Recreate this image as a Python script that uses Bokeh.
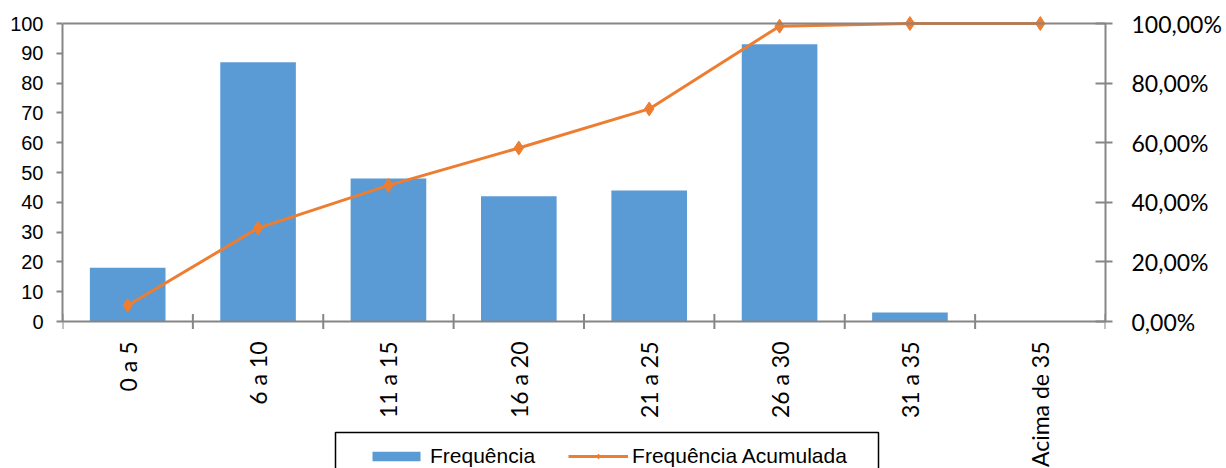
from math import pi
from bokeh.plotting import figure
from bokeh.models import Range1d, LinearAxis, FixedTicker, Span, BoxAnnotation
from bokeh.core.properties import value
from bokeh.embed import file_html
from bokeh.resources import INLINE

# ---- data ----
categories = ["0 a 5", "6 a 10", "11 a 15", "16 a 20", "21 a 25", "26 a 30", "31 a 35", "Acima de 35"]
frequencia = [18, 87, 48, 42, 44, 93, 3, 0]
acumulada_pct = [5.37, 31.34, 45.67, 58.21, 71.34, 99.10, 100.0, 100.0]
left_ticks = [0, 10, 20, 30, 40, 50, 60, 70, 80, 90, 100]
right_ticks = [0, 20, 40, 60, 80, 100]
right_tick_labels = ["0,00%", "20,00%", "40,00%", "60,00%", "80,00%", "100,00%"]

BAR = "#5B9BD5"
LINE = "#ED7D31"
AX = "#868686"

W, H = 1226, 468
n = len(categories)
xc = [i + 0.5 for i in range(n)]
bounds = list(range(n + 1))
zeros = [0] * len(bounds)

# layout: value 100 at y=23px, value 0 at y=321px; frame runs to the bottom edge
FL, FR = 62, 1105
ppu = (321 - 23) / 100.0
frame_top = 15
y_end = 100 + (23 - frame_top) / ppu
y_start = -(H - 321) / ppu

p = figure(width=W, height=H, output_backend="svg", toolbar_location=None,
           x_range=Range1d(0, n), y_range=Range1d(y_start, y_end),
           x_axis_location=None,
           min_border_left=FL, min_border_right=W - FR, min_border_top=frame_top,
           min_border_bottom=0, background_fill_color="white",
           border_fill_color="white", outline_line_color=None)
p.extra_y_ranges = {"pct": Range1d(y_start, y_end)}
p.grid.visible = False

p.vbar(x=xc, top=frequencia, width=0.58, fill_color=BAR, line_color=None,
       legend_label="Frequência")
p.line(x=xc, y=acumulada_pct, y_range_name="pct", line_color=LINE, line_width=3,
       legend_label="Frequência Acumulada")
p.scatter(x=xc, y=acumulada_pct, y_range_name="pct", marker="diamond", size=14,
          fill_color=LINE, line_color=LINE, legend_label="Frequência Acumulada")

# top border and category axis baseline
p.add_layout(Span(location=100, dimension="width", line_color=AX, line_width=2))
p.add_layout(Span(location=0, dimension="width", line_color=AX, line_width=2))
# category boundary ticks (crossing the baseline)
p.scatter(x=bounds, y=zeros, marker="dash", angle=pi / 2, size=15,
          line_color=AX, line_width=2)
# category labels, rotated
p.text(x=xc, y=[0] * n, text=categories, angle=pi / 2, y_offset=20,
       text_align="right", text_baseline="middle",
       text_font=value("Lato"), text_font_size="23px", text_color="black")

# left axis
ya = p.yaxis[0]
ya.ticker = FixedTicker(ticks=left_ticks)
ya.bounds = (0, 100)
ya.axis_line_color = AX
ya.axis_line_width = 2
ya.major_tick_line_color = AX
ya.major_tick_line_width = 2
ya.major_tick_in = 0
ya.major_tick_out = 6
ya.minor_tick_line_color = None
ya.major_label_standoff = 13
ya.major_label_text_font = "Liberation Sans"
ya.major_label_text_font_size = "20px"
ya.major_label_text_color = "black"

# right axis
ra = LinearAxis(y_range_name="pct", ticker=FixedTicker(ticks=right_ticks), bounds=(0, 100))
ra.major_label_overrides = dict(zip(right_ticks, right_tick_labels))
ra.axis_line_color = AX
ra.axis_line_width = 2
ra.major_tick_line_color = AX
ra.major_tick_line_width = 2
ra.major_tick_in = 10
ra.major_tick_out = 7
ra.minor_tick_line_color = None
ra.major_label_standoff = 19
ra.major_label_text_font = "Lato"
ra.major_label_text_font_size = "23px"
ra.major_label_text_color = "black"
p.add_layout(ra, "right")

# legend (items) + its frame drawn as a box in screen units
lg = p.legend[0]
lg.orientation = "horizontal"
lg.location = (304, 0)
lg.padding = 12
lg.spacing = 33
lg.label_standoff = 4
lg.glyph_width = 60
lg.glyph_height = 12
lg.label_text_font = "Liberation Sans"
lg.label_text_font_size = "21px"
lg.label_text_color = "black"
lg.border_line_color = None
lg.background_fill_alpha = 0.0

p.add_layout(BoxAnnotation(left=335 - FL, right=878 - FL, top=H - 432, bottom=-10,
                           left_units="screen", right_units="screen",
                           top_units="screen", bottom_units="screen",
                           fill_color=None, line_color="black", line_width=1.5,
                           line_alpha=1.0))

open("out.html", "w").write(file_html(p, INLINE))
